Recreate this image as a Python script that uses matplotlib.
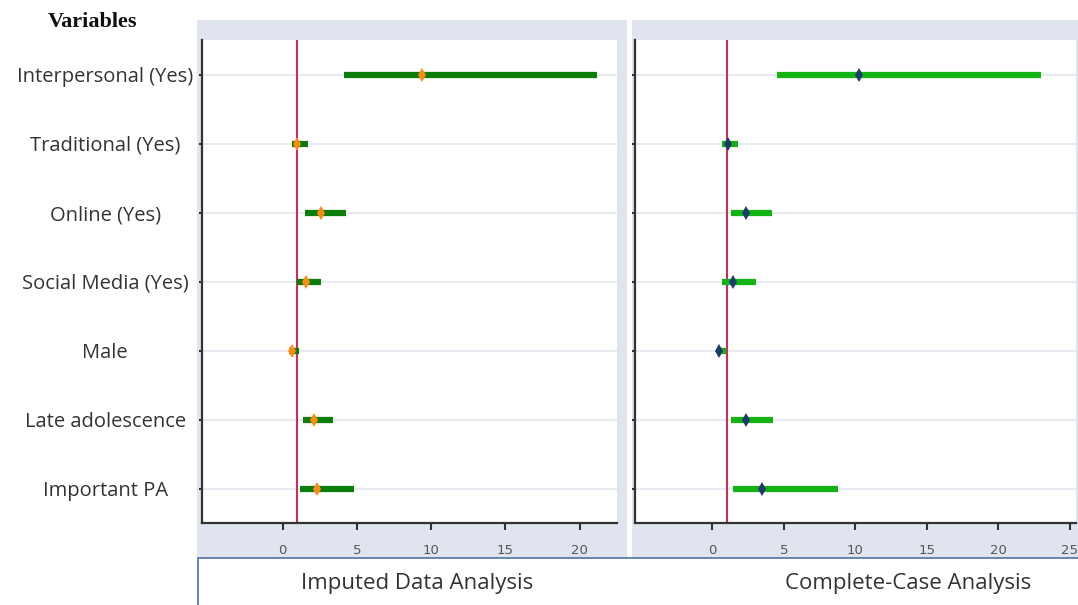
import matplotlib
matplotlib.use("Agg")
import matplotlib.pyplot as plt
from matplotlib.patches import Rectangle

# rows, top to bottom
variables = ["Interpersonal (Yes)", "Traditional (Yes)", "Online (Yes)",
             "Social Media (Yes)", "Male", "Late adolescence", "Important PA"]

# imputed data analysis (odds ratio and 95% CI)
imp_or = [9.37, 1.00, 2.57, 1.56, 0.62, 2.14, 2.34]
imp_lo = [4.16, 0.62, 1.52, 0.96, 0.46, 1.40, 1.18]
imp_hi = [21.15, 1.74, 4.28, 2.59, 1.13, 3.42, 4.84]

# complete-case analysis
cc_or = [10.28, 1.08, 2.34, 1.47, 0.47, 2.34, 3.50]
cc_lo = [4.55, 0.66, 1.31, 0.70, 0.35, 1.31, 1.43]
cc_hi = [23.0, 1.78, 4.15, 3.03, 0.94, 4.27, 8.81]

imp_ticks = [0, 5, 10, 15, 20]
cc_ticks = [0, 5, 10, 15, 20, 25]

W, H = 1078, 605
PANEL_BG = "#dfe4ee"
GRID = "#e6e8f0"
REF_RED = "#c8305c"

fig = plt.figure(figsize=(W / 100, H / 100), dpi=100)
fig.patch.set_facecolor("white")


def fx(px):
    return px / W


def fy(py):
    return 1 - py / H


# grey panel backgrounds
fig.add_artist(Rectangle((fx(197), fy(558)), fx(627 - 197), (558 - 20) / H,
                         transform=fig.transFigure, facecolor=PANEL_BG,
                         edgecolor="none", zorder=0))
fig.add_artist(Rectangle((fx(632), fy(558)), fx(W - 632 + 5), (558 - 20) / H,
                         transform=fig.transFigure, facecolor=PANEL_BG,
                         edgecolor="none", zorder=0))
# caption box
fig.add_artist(Rectangle((fx(198), fy(H + 5)), fx(W), (H + 5 - 558) / H,
                         transform=fig.transFigure, facecolor="white",
                         edgecolor="#4f72a8", linewidth=1.2, zorder=1))


def forest(ax, est, lo, hi, bar_color, pt_color, xlim, ticks):
    ax.set_facecolor("white")
    ypos = list(range(len(variables)))
    for y in ypos:
        ax.axhline(y, color=GRID, lw=1.3, zorder=1)
    ax.axvline(1, color=REF_RED, lw=1.5, zorder=2)
    ax.hlines(ypos, lo, hi, color=bar_color, lw=4.5, zorder=3)
    ax.plot(est, ypos, linestyle="none", marker="d", markersize=7,
            color=pt_color, markeredgewidth=0, zorder=4)
    ax.set_xlim(*xlim)
    ax.set_ylim(6.5, -0.5)
    ax.set_xticks(ticks)
    ax.set_xticklabels([str(t) for t in ticks], family="Liberation Sans Narrow",
                       fontsize=9.5, color="#555555")
    ax.tick_params(axis="x", length=5, width=1.5, color="#333333", pad=10)
    ax.set_yticks(ypos)
    for side in ("top", "right"):
        ax.spines[side].set_visible(False)
    for side in ("left", "bottom"):
        ax.spines[side].set_color("#333333")
        ax.spines[side].set_linewidth(1.6)


ax1 = fig.add_axes([fx(201.7), fy(523), fx(616.7 - 201.7), (523 - 40) / H])
forest(ax1, imp_or, imp_lo, imp_hi, "#0b7d0b", "#ff8a10", (-5.44, 22.5), imp_ticks)
ax1.set_yticklabels(variables, family="Open Sans", fontsize=14.5, color="#333333", ha="center")
ax1.tick_params(axis="y", length=2.5, width=1.5, color="#333333", pad=67)

ax2 = fig.add_axes([fx(635), fy(523), fx(1076 - 635), (523 - 40) / H])
forest(ax2, cc_or, cc_lo, cc_hi, "#12b312", "#1c3a6e", (-5.41, 25.43), cc_ticks)
ax2.set_yticklabels([])
ax2.tick_params(axis="y", length=2.5, width=1.5, color="#333333")

fig.text(fx(92), fy(22), "Variables", family="Liberation Serif", fontweight="bold",
         fontsize=16, ha="center", va="center", color="#111111")
fig.text(fx(417), fy(583), "Imputed Data Analysis", family="Open Sans", fontsize=16,
         ha="center", va="center", color="#333333", zorder=5)
fig.text(fx(908), fy(583), "Complete-Case Analysis", family="Open Sans", fontsize=16,
         ha="center", va="center", color="#333333", zorder=5)

fig.savefig("out.png", dpi=100)
